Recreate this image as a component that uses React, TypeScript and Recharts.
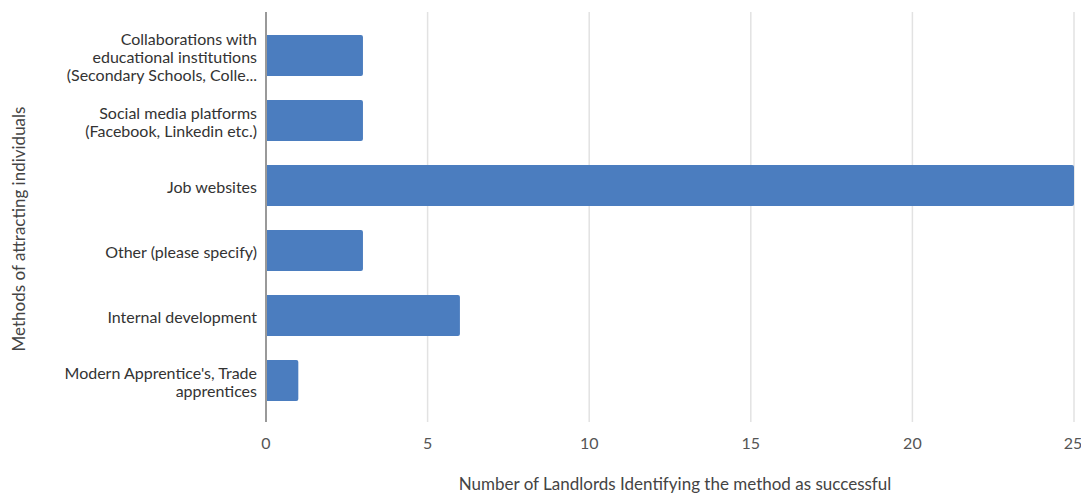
import React from 'react';
import { BarChart, Bar, XAxis, YAxis, CartesianGrid, Label } from 'recharts';

// Methods listed top to bottom
const methods = [
  'Collaborations with\neducational institutions\n(Secondary Schools, Colle...',
  'Social media platforms\n(Facebook, Linkedin etc.)',
  'Job websites',
  'Other (please specify)',
  'Internal development',
  "Modern Apprentice's, Trade\napprentices",
];

const landlordCounts = [3, 3, 25, 3, 6, 1];

const xTicks = [0, 5, 10, 15, 20, 25];

const data = methods.map((method, i) => ({ method, count: landlordCounts[i] }));

const FONT = 'Lato, "Open Sans", sans-serif';
const BAR_COLOR = '#4b7dbf';

const MethodTick = ({ x, y, payload }: any) => {
  const lines = String(payload.value).split('\n');
  const lineHeight = 18;
  const startY = y - ((lines.length - 1) * lineHeight) / 2;
  return (
    <text
      x={x - 1}
      y={startY}
      textAnchor="end"
      dominantBaseline="central"
      fill="#333"
      fontSize={16}
      fontFamily={FONT}
    >
      {lines.map((line, i) => (
        <tspan key={i} x={x - 1} y={startY + i * lineHeight}>
          {line}
        </tspan>
      ))}
    </text>
  );
};

const CountTick = ({ x, y, payload }: any) => (
  <text x={x} y={y + 19} textAnchor="middle" fill="#555" fontSize={16} fontFamily={FONT}>
    {payload.value}
  </text>
);

// rotated axis title, nudged a little below the plot centre
const MethodsTitle = ({ viewBox }: any) => {
  const cx = 18;
  const cy = viewBox.y + viewBox.height / 2 + 12;
  return (
    <text
      x={cx}
      y={cy}
      transform={`rotate(-90, ${cx}, ${cy})`}
      textAnchor="middle"
      dominantBaseline="central"
      fill="#444"
      fontSize={17}
      fontFamily={FONT}
    >
      Methods of attracting individuals
    </text>
  );
};

export default function App() {
  return (
    <div style={{ position: 'absolute', left: 0, top: 0, background: '#fff' }}>
      <BarChart
        layout="vertical"
        width={1081}
        height={497}
        data={data}
        margin={{ top: 12, right: 7, bottom: 0, left: 0 }}
      >
        <CartesianGrid horizontal={false} stroke="#e2e2e2" strokeWidth={1.5} />
        <XAxis
          type="number"
          domain={[0, 25]}
          ticks={xTicks}
          axisLine={false}
          tickLine={false}
          height={75}
          tick={<CountTick />}
        >
          <Label
            value="Number of Landlords Identifying the method as successful"
            position="insideBottom"
            offset={7}
            dx={5}
            style={{ fontFamily: FONT, fontSize: 17, fill: '#444' }}
          />
        </XAxis>
        <YAxis
          type="category"
          dataKey="method"
          width={266}
          padding={{ top: 11, bottom: 9 }}
          axisLine={{ stroke: '#999', strokeWidth: 2 }}
          tickLine={false}
          tick={<MethodTick />}
          interval={0}
        >
          <Label content={<MethodsTitle />} />
        </YAxis>
        <Bar dataKey="count" fill={BAR_COLOR} barSize={41} radius={[0, 2, 2, 0]} isAnimationActive={false} />
      </BarChart>
    </div>
  );
}
